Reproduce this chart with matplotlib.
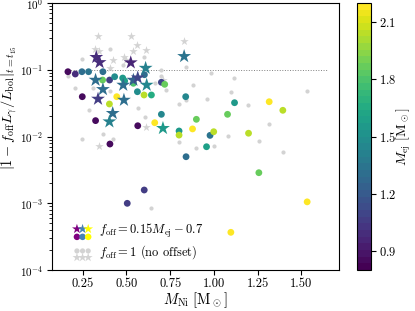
import numpy as np
import matplotlib
matplotlib.use("Agg")
import matplotlib.pyplot as plt
from matplotlib.legend_handler import HandlerPathCollection, HandlerTuple

plt.rcParams.update({
    "font.family": "serif",
    "font.serif": ["cmr10", "DejaVu Serif"],
    "mathtext.fontset": "cm",
    "axes.formatter.use_mathtext": True,
    "axes.unicode_minus": True,
})

# f_off = 1 (no offset): circles
nooff_dot_x = [0.248, 0.406, 0.483, 0.601, 0.700, 0.700, 0.839, 0.981, 1.116, 0.164,
               0.206, 0.307, 0.406, 0.286, 0.565, 0.364, 0.422, 0.248, 0.662, 0.725,
               0.881, 0.839, 0.801, 0.958, 1.095, 0.605, 1.078, 0.999, 0.900, 0.801,
               1.196, 1.533, 1.316, 1.257, 1.394, 0.641]
nooff_dot_y = [0.145, 0.205, 0.117, 0.154, 0.098, 0.080, 0.109, 0.0885, 0.076, 0.0815,
               0.0527, 0.0527, 0.048, 0.0249, 0.0265, 0.0109, 0.0092, 0.0092, 0.0627, 0.0497,
               0.0591, 0.0352, 0.0307, 0.0365, 0.0469, 0.0198, 0.0103, 0.0072, 0.00666, 0.00819,
               0.0293, 0.0475, 0.0152, 0.00865, 0.0058, 0.00084]

# f_off = 1 (no offset): stars
nooff_star_x = [0.336, 0.525, 0.830, 0.563, 0.320, 0.343, 0.612, 0.536, 0.426, 0.486,
                0.496, 0.406, 0.346, 0.612, 0.709]
nooff_star_y = [0.317, 0.317, 0.267, 0.232, 0.207, 0.189, 0.196, 0.193, 0.139, 0.154,
                0.142, 0.106, 0.00728, 0.0137, 0.0702]

# f_off = 0.15 M_ej - 0.7: circles
off_dot_x = [0.166, 0.208, 0.246, 0.284, 0.366, 0.404, 0.364, 0.433, 0.479, 0.490,
             0.540, 0.563, 0.603, 0.700, 0.719, 0.248, 0.445, 0.403, 0.601, 0.643,
             0.324, 0.565, 0.662, 0.700, 0.839, 0.801, 0.801, 0.878, 0.900, 0.406,
             0.841, 0.978, 0.999, 0.958, 1.118, 1.316, 1.394, 1.078, 1.198, 1.257,
             1.533, 1.097, 0.602, 0.505]
off_dot_y = [0.0935, 0.0864, 0.0935, 0.0935, 0.0935, 0.0702, 0.0702, 0.0787, 0.0752, 0.0679,
             0.0627, 0.0469, 0.0843, 0.0649, 0.0605, 0.0395, 0.0395, 0.0307, 0.0419, 0.0419,
             0.0173, 0.0145, 0.0161, 0.0215, 0.0395, 0.0121, 0.0105, 0.0130, 0.0181, 0.00772,
             0.00498, 0.0104, 0.0118, 0.00703, 0.0321, 0.0332, 0.0247, 0.0215, 0.0112, 0.00287,
             0.00105, 0.000367, 0.00158, 0.000998]
off_dot_mej = [0.85, 1.0, 1.3, 1.35, 1.3, 1.05, 1.85, 1.5, 1.55, 1.6,
               1.8, 1.5, 1.3, 1.1, 1.85, 0.85, 2.2, 2.05, 2.05, 1.65,
               0.85, 0.85, 2.2, 1.45, 1.45, 1.55, 2.05, 2.2, 1.85, 0.85,
               1.3, 1.35, 2.05, 1.6, 1.55, 2.2, 2.05, 1.85, 2.05, 1.85,
               2.2, 2.2, 1.05, 1.05]

# f_off = 0.15 M_ej - 0.7: stars
off_star_x = [0.328, 0.347, 0.525, 0.610, 0.830, 0.324, 0.366, 0.338, 0.486, 0.482,
              0.540, 0.565, 0.616, 0.422, 0.403, 0.709]
off_star_y = [0.154, 0.129, 0.128, 0.106, 0.159, 0.0702, 0.0509, 0.0365, 0.0352, 0.0591,
              0.0702, 0.076, 0.0591, 0.0223, 0.0167, 0.0133]
off_star_mej = [1.0, 1.0, 0.95, 1.4, 1.35, 1.3, 1.3, 1.05, 1.3, 1.3,
                1.25, 1.1, 1.45, 1.3, 1.4, 1.55]

cbar_ticks = [0.9, 1.2, 1.5, 1.8, 2.1]
legend_colors = ["purple", "steelblue", "yellow"]

fig = plt.figure(figsize=(4.15, 3.11), dpi=100)
ax = fig.add_axes([0.1253, 0.1318, 0.6916, 0.8585])
cax = fig.add_axes([0.8602, 0.1318, 0.0337, 0.8585])

cmap = plt.get_cmap("viridis", 40)
norm = matplotlib.colors.Normalize(vmin=0.8, vmax=2.2)
gray = "#d3d3d3"

ax.hlines(0.1, 0.165, 1.645, colors="gray", linestyles=":", linewidth=0.7, zorder=1)
ax.scatter(nooff_dot_x, nooff_dot_y, s=9, color=gray, linewidths=0, zorder=2)
ax.scatter(nooff_star_x, nooff_star_y, s=40, marker="*", color=gray, linewidths=0, zorder=2)
sc = ax.scatter(off_dot_x, off_dot_y, s=24, c=off_dot_mej, cmap=cmap, norm=norm,
                linewidths=0, zorder=3)
ax.scatter(off_star_x, off_star_y, s=110, marker="*", c=off_star_mej, cmap=cmap, norm=norm,
           linewidths=0, zorder=4)

ax.set_yscale("log")
ax.set_ylim(1e-4, 1)
ax.set_xlim(0.075, 1.715)
ax.set_xticks([0.25, 0.5, 0.75, 1.0, 1.25, 1.5])
ax.set_xticklabels(["0.25", "0.50", "0.75", "1.00", "1.25", "1.50"])
ax.tick_params(labelsize=9)
ax.tick_params(axis="x", pad=2.3)
ax.tick_params(axis="y", labelsize=8, pad=2.8)
ax.set_xlabel(r"$M_{\rm Ni}\ [{\rm M}_\odot]$", fontsize=10.5, labelpad=0)
ax.set_ylabel(r"$|1 - f_{\rm off} L_\gamma / L_{\rm bol}|_{t=t_{15}}$", fontsize=10.3)
ax.yaxis.set_label_coords(-0.1135, 0.607)

cb = fig.colorbar(sc, cax=cax, ticks=cbar_ticks)
cb.ax.tick_params(labelsize=9, pad=2)
cb.set_label(r"$M_{\rm ej}\ [{\rm M}_\odot]$", fontsize=10, labelpad=-1)

# legend proxies
nan3 = [np.nan] * 3
p_star = ax.scatter(nan3, nan3, marker="*", s=55, c=legend_colors, linewidths=0)
p_dot = ax.scatter(nan3, nan3, marker="o", s=22, c=legend_colors, linewidths=0)
g_dot = ax.scatter(nan3, nan3, marker="o", s=14, color=gray, linewidths=0)
g_star = ax.scatter(nan3, nan3, marker="*", s=45, color=gray, linewidths=0)

hmap = {
    p_star: HandlerPathCollection(yoffsets=[0.55, 0.55, 0.55]),
    p_dot: HandlerPathCollection(yoffsets=[-0.35, -0.35, -0.35]),
    g_dot: HandlerPathCollection(yoffsets=[0.5, 0.5, 0.5]),
    g_star: HandlerPathCollection(yoffsets=[-0.25, -0.25, -0.25]),
    tuple: HandlerTuple(ndivide=1),
}
ax.legend([(p_star, p_dot), (g_dot, g_star)],
          [r"$f_{\rm off} = 0.15 M_{\rm ej} - 0.7$", r"$f_{\rm off} = 1$ (no offset)"],
          handler_map=hmap, scatterpoints=3, loc="lower left", frameon=False,
          fontsize=9, handlelength=1.5, handletextpad=0.6, labelspacing=0.24,
          borderaxespad=0.4, bbox_to_anchor=(0.039, -0.0025))

fig.savefig("out.png", dpi=100)
